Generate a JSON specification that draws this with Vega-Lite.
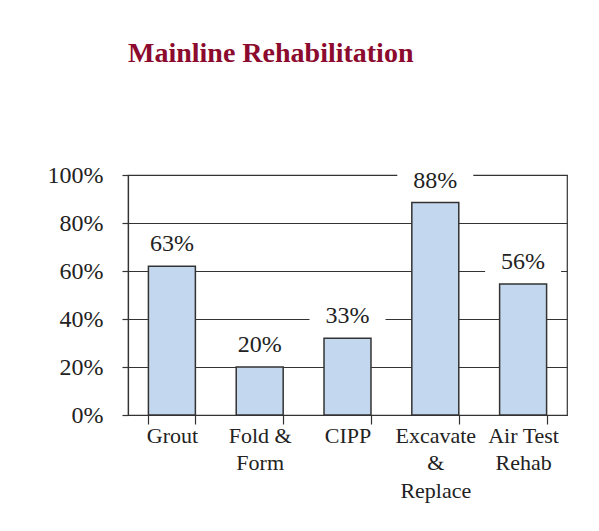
{
  "$schema": "https://vega.github.io/schema/vega-lite/v6.json",
  "width": 439,
  "height": 240,
  "autosize": "none",
  "padding": {"left": 128, "top": 175, "right": 32, "bottom": 116},
  "background": "white",
  "title": {
    "text": "Mainline Rehabilitation",
    "anchor": "start",
    "frame": "group",
    "font": "Liberation Serif",
    "fontSize": 28,
    "fontWeight": "bold",
    "color": "#8B0A2E",
    "offset": 95
  },
  "config": {
    "view": {"stroke": "#333333", "strokeWidth": 1.2},
    "axis": {
      "labelFont": "Liberation Serif",
      "labelColor": "#222222",
      "domainColor": "#333333",
      "tickColor": "#333333",
      "gridColor": "#333333"
    },
    "text": {"font": "Liberation Serif"}
  },
  "data": {
    "values": [
      {"cat": "Grout", "value": 62, "label": "63%"},
      {"cat": "Fold &|Form", "value": 20, "label": "20%"},
      {"cat": "CIPP", "value": 32, "label": "33%"},
      {"cat": "Excavate|&|Replace", "value": 88.5, "label": "88%"},
      {"cat": "Air Test|Rehab", "value": 54.6, "label": "56%"}
    ]
  },
  "encoding": {
    "x": {
      "field": "cat",
      "type": "nominal",
      "sort": null,
      "scale": {"paddingInner": 0.465, "paddingOuter": 0.2325},
      "axis": {
        "title": null,
        "labelAngle": 0,
        "labelFont": "Liberation Serif",
        "labelFontSize": 22,
        "labelLineHeight": 27.5,
        "labelExpr": "split(datum.label, '|')",
        "tickBand": "extent",
        "tickSize": 9,
        "tickWidth": 1.2,
        "domainWidth": 1.2,
        "labelPadding": 1
      }
    }
  },
  "layer": [
    {
      "mark": {"type": "bar", "fill": "#C3D8EE", "stroke": "#333333", "strokeWidth": 1.5},
      "encoding": {
        "y": {
          "field": "value",
          "type": "quantitative",
          "scale": {"domain": [0, 100]},
          "axis": {
            "title": null,
            "values": [0, 20, 40, 60, 80, 100],
            "labelExpr": "datum.value + '%'",
            "labelFont": "Liberation Serif",
            "labelFontSize": 24,
            "labelPadding": 19,
            "tickSize": 6,
            "tickWidth": 1.2,
            "grid": true,
            "gridWidth": 1.2,
            "domainWidth": 1.2
          }
        }
      }
    },
    {
      "mark": {
        "type": "point",
        "shape": "M-1,-0.3H1V0.3H-1Z",
        "size": 5776,
        "filled": true,
        "fill": "white",
        "opacity": 1,
        "strokeWidth": 0,
        "yOffset": -21
      },
      "encoding": {"y": {"field": "value", "type": "quantitative"}}
    },
    {
      "mark": {
        "type": "text",
        "font": "Liberation Serif",
        "fontSize": 24,
        "dy": -22,
        "baseline": "middle",
        "color": "#222222"
      },
      "encoding": {
        "y": {"field": "value", "type": "quantitative"},
        "text": {"field": "label"}
      }
    }
  ]
}
